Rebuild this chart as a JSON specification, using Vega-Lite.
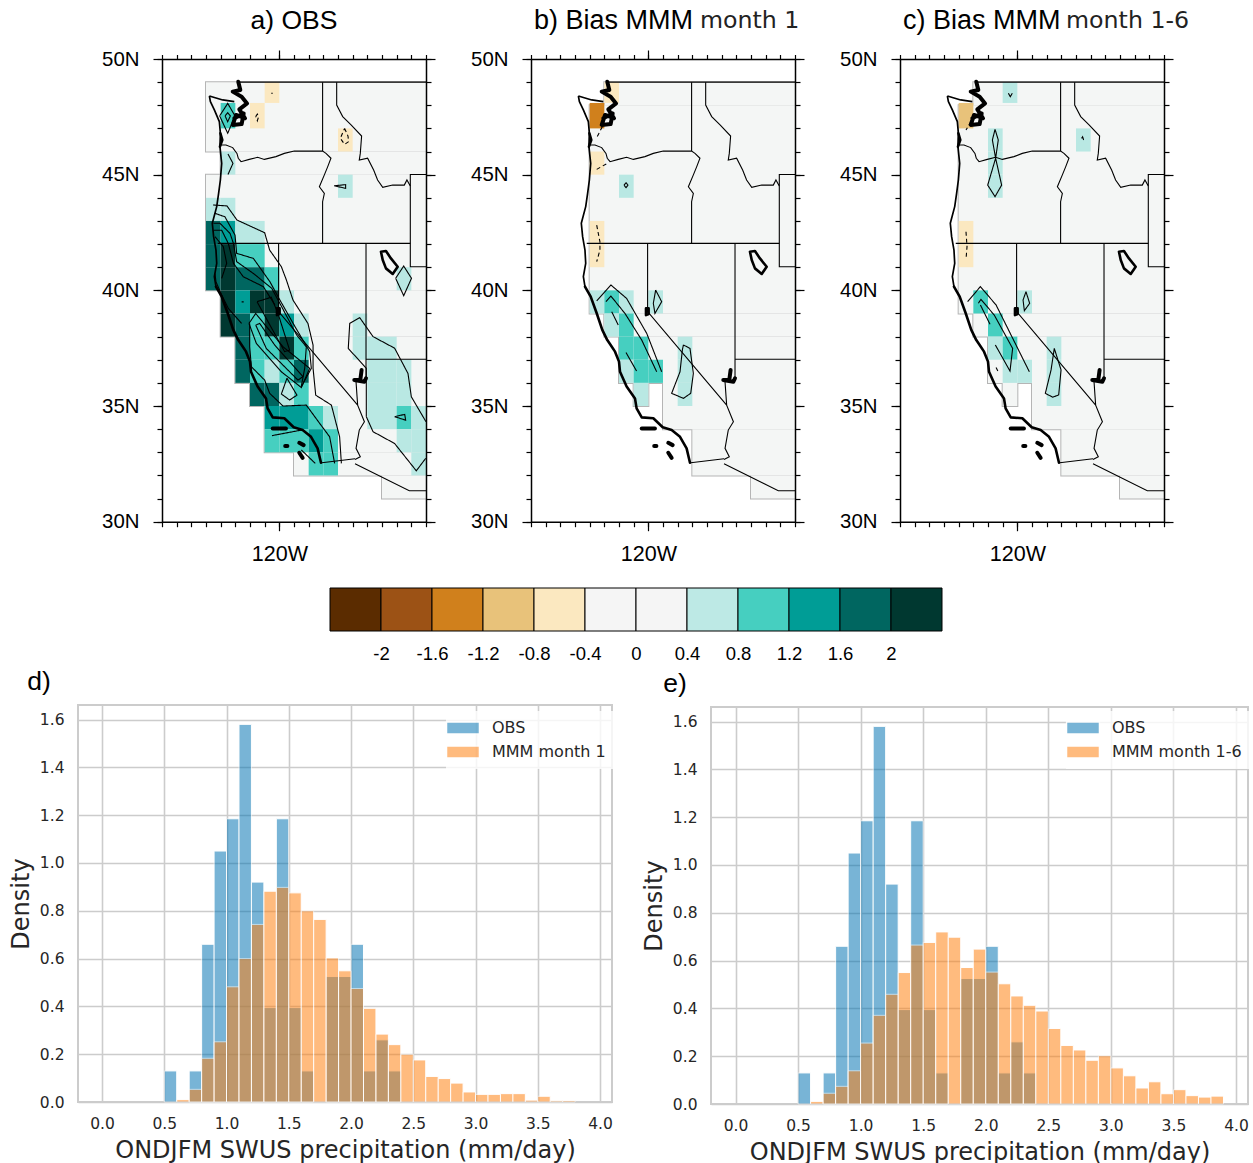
{"$schema":"https://vega.github.io/schema/vega-lite/v6.json","background":"white","padding":{"left":8,"top":7,"right":0,"bottom":8},"spacing":4,
"config":{"font":"Liberation Sans","view":{"stroke":null},"axis":{"grid":false,"domain":false,"labels":false,"tickColor":"black","tickWidth":1.2,"domainColor":"black","domainWidth":1.5,"labelColor":"black"},"title":{"font":"Liberation Sans","fontWeight":"normal","fontSize":26.5,"color":"black"}},
"datasets":{
"mask":[
{"panel":"a","west":-125,"east":-110,"south":46,"north":49},{"panel":"a","west":-124,"east":-110,"south":45,"north":46},{"panel":"a","west":-125,"east":-110,"south":40,"north":45},{"panel":"a","west":-124,"east":-110,"south":38,"north":40},{"panel":"a","west":-123,"east":-110,"south":36,"north":38},{"panel":"a","west":-122,"east":-110,"south":35,"north":36},{"panel":"a","west":-121,"east":-110,"south":33,"north":35},{"panel":"a","west":-119,"east":-110,"south":32,"north":33},{"panel":"a","west":-113,"east":-110,"south":31,"north":32},
{"panel":"m","west":-123,"east":-110,"south":48,"north":49},{"panel":"m","west":-124,"east":-110,"south":39,"north":48},{"panel":"m","west":-123,"east":-110,"south":38,"north":39},{"panel":"m","west":-122,"east":-110,"south":36,"north":38},{"panel":"m","west":-121,"east":-120,"south":35,"north":36},{"panel":"m","west":-119,"east":-110,"south":34,"north":36},{"panel":"m","west":-117,"east":-110,"south":32,"north":34},{"panel":"m","west":-113,"east":-110,"south":31,"north":32}],
"cells":[
{"panel":"a","lon":-121,"lon2":-120,"lat":48.1,"lat2":49,"v":-0.6},{"panel":"a","lon":-122,"lon2":-121,"lat":47,"lat2":48.1,"v":-0.6},{"panel":"a","lon":-124,"lon2":-123,"lat":47,"lat2":48.1,"v":1},{"panel":"a","lon":-116,"lon2":-115,"lat":46,"lat2":47,"v":-0.6},{"panel":"a","lon":-124,"lon2":-123,"lat":45,"lat2":46,"v":0.6},{"panel":"a","lon":-116,"lon2":-115,"lat":44,"lat2":45,"v":0.6},
{"panel":"a","lon":-125,"lon2":-124,"lat":43,"lat2":44,"v":0.6},{"panel":"a","lon":-124,"lon2":-123,"lat":43,"lat2":44,"v":0.6},
{"panel":"a","lon":-125,"lon2":-124,"lat":42,"lat2":43,"v":1.8},{"panel":"a","lon":-124,"lon2":-123,"lat":42,"lat2":43,"v":1.4},{"panel":"a","lon":-123,"lon2":-122,"lat":42,"lat2":43,"v":0.6},{"panel":"a","lon":-122,"lon2":-121,"lat":42,"lat2":43,"v":0.6},
{"panel":"a","lon":-125,"lon2":-124,"lat":41,"lat2":42,"v":1.8},{"panel":"a","lon":-124,"lon2":-123,"lat":41,"lat2":42,"v":2.2},{"panel":"a","lon":-123,"lon2":-122,"lat":41,"lat2":42,"v":1},{"panel":"a","lon":-122,"lon2":-121,"lat":41,"lat2":42,"v":1},
{"panel":"a","lon":-125,"lon2":-124,"lat":40,"lat2":41,"v":1.8},{"panel":"a","lon":-124,"lon2":-123,"lat":40,"lat2":41,"v":2.2},{"panel":"a","lon":-123,"lon2":-122,"lat":40,"lat2":41,"v":1.8},{"panel":"a","lon":-122,"lon2":-121,"lat":40,"lat2":41,"v":1.8},{"panel":"a","lon":-121,"lon2":-120,"lat":40,"lat2":41,"v":1},{"panel":"a","lon":-112,"lon2":-111,"lat":40,"lat2":41,"v":0.6},
{"panel":"a","lon":-124,"lon2":-123,"lat":39,"lat2":40,"v":2.2},{"panel":"a","lon":-123,"lon2":-122,"lat":39,"lat2":40,"v":1.4},{"panel":"a","lon":-122,"lon2":-121,"lat":39,"lat2":40,"v":2.2},{"panel":"a","lon":-121,"lon2":-120,"lat":39,"lat2":40,"v":2.2},{"panel":"a","lon":-120,"lon2":-119,"lat":39,"lat2":40,"v":0.6},
{"panel":"a","lon":-124,"lon2":-123,"lat":38,"lat2":39,"v":2.2},{"panel":"a","lon":-123,"lon2":-122,"lat":38,"lat2":39,"v":1.8},{"panel":"a","lon":-122,"lon2":-121,"lat":38,"lat2":39,"v":1},{"panel":"a","lon":-121,"lon2":-120,"lat":38,"lat2":39,"v":2.2},{"panel":"a","lon":-120,"lon2":-119,"lat":38,"lat2":39,"v":1.4},{"panel":"a","lon":-119,"lon2":-118,"lat":38,"lat2":39,"v":0.6},{"panel":"a","lon":-115,"lon2":-114,"lat":38,"lat2":39,"v":0.6},
{"panel":"a","lon":-123,"lon2":-122,"lat":37,"lat2":38,"v":1.8},{"panel":"a","lon":-122,"lon2":-121,"lat":37,"lat2":38,"v":1},{"panel":"a","lon":-121,"lon2":-120,"lat":37,"lat2":38,"v":1},{"panel":"a","lon":-120,"lon2":-119,"lat":37,"lat2":38,"v":2.2},{"panel":"a","lon":-119,"lon2":-118,"lat":37,"lat2":38,"v":1},{"panel":"a","lon":-115,"lon2":-114,"lat":37,"lat2":38,"v":0.6},{"panel":"a","lon":-114,"lon2":-113,"lat":37,"lat2":38,"v":0.6},{"panel":"a","lon":-113,"lon2":-112,"lat":37,"lat2":38,"v":0.6},
{"panel":"a","lon":-123,"lon2":-122,"lat":36,"lat2":37,"v":1.8},{"panel":"a","lon":-122,"lon2":-121,"lat":36,"lat2":37,"v":1},{"panel":"a","lon":-121,"lon2":-120,"lat":36,"lat2":37,"v":0.6},{"panel":"a","lon":-120,"lon2":-119,"lat":36,"lat2":37,"v":1},{"panel":"a","lon":-119,"lon2":-118,"lat":36,"lat2":37,"v":1.8},{"panel":"a","lon":-114,"lon2":-113,"lat":36,"lat2":37,"v":0.6},{"panel":"a","lon":-113,"lon2":-112,"lat":36,"lat2":37,"v":0.6},{"panel":"a","lon":-112,"lon2":-111,"lat":36,"lat2":37,"v":0.6},
{"panel":"a","lon":-122,"lon2":-121,"lat":35,"lat2":36,"v":1.8},{"panel":"a","lon":-121,"lon2":-120,"lat":35,"lat2":36,"v":1.8},{"panel":"a","lon":-120,"lon2":-119,"lat":35,"lat2":36,"v":0.6},{"panel":"a","lon":-119,"lon2":-118,"lat":35,"lat2":36,"v":1},{"panel":"a","lon":-114,"lon2":-113,"lat":35,"lat2":36,"v":0.6},{"panel":"a","lon":-113,"lon2":-112,"lat":35,"lat2":36,"v":0.6},{"panel":"a","lon":-112,"lon2":-111,"lat":35,"lat2":36,"v":0.6},
{"panel":"a","lon":-121,"lon2":-120,"lat":34,"lat2":35,"v":1.4},{"panel":"a","lon":-120,"lon2":-119,"lat":34,"lat2":35,"v":1.4},{"panel":"a","lon":-119,"lon2":-118,"lat":34,"lat2":35,"v":1.4},{"panel":"a","lon":-118,"lon2":-117,"lat":34,"lat2":35,"v":1},{"panel":"a","lon":-117,"lon2":-116,"lat":34,"lat2":35,"v":0.6},{"panel":"a","lon":-114,"lon2":-113,"lat":34,"lat2":35,"v":0.6},{"panel":"a","lon":-113,"lon2":-112,"lat":34,"lat2":35,"v":0.6},{"panel":"a","lon":-112,"lon2":-111,"lat":34,"lat2":35,"v":1},{"panel":"a","lon":-111,"lon2":-110,"lat":34,"lat2":35,"v":0.6},
{"panel":"a","lon":-121,"lon2":-120,"lat":33,"lat2":34,"v":1},{"panel":"a","lon":-120,"lon2":-119,"lat":33,"lat2":34,"v":1},{"panel":"a","lon":-119,"lon2":-118,"lat":33,"lat2":34,"v":1},{"panel":"a","lon":-118,"lon2":-117,"lat":33,"lat2":34,"v":1.4},{"panel":"a","lon":-117,"lon2":-116,"lat":33,"lat2":34,"v":1},{"panel":"a","lon":-112,"lon2":-111,"lat":33,"lat2":34,"v":0.6},{"panel":"a","lon":-111,"lon2":-110,"lat":33,"lat2":34,"v":0.6},
{"panel":"a","lon":-118,"lon2":-117,"lat":32,"lat2":33,"v":1},{"panel":"a","lon":-117,"lon2":-116,"lat":32,"lat2":33,"v":1},{"panel":"a","lon":-111,"lon2":-110,"lat":32,"lat2":33,"v":0.6},
{"panel":"b","lon":-123,"lon2":-122,"lat":48.1,"lat2":49,"v":-0.6},{"panel":"b","lon":-124,"lon2":-123,"lat":47,"lat2":48.1,"v":-1.4},{"panel":"b","lon":-124,"lon2":-123,"lat":45,"lat2":46,"v":-0.6},{"panel":"b","lon":-122,"lon2":-121,"lat":44,"lat2":45,"v":0.6},{"panel":"b","lon":-124,"lon2":-123,"lat":42,"lat2":43,"v":-0.6},{"panel":"b","lon":-124,"lon2":-123,"lat":41,"lat2":42,"v":-0.6},
{"panel":"b","lon":-124,"lon2":-123,"lat":39,"lat2":40,"v":0.6},{"panel":"b","lon":-123,"lon2":-122,"lat":39,"lat2":40,"v":1},{"panel":"b","lon":-122,"lon2":-121,"lat":39,"lat2":40,"v":0.6},{"panel":"b","lon":-120,"lon2":-119,"lat":39,"lat2":40,"v":0.6},{"panel":"b","lon":-123,"lon2":-122,"lat":38,"lat2":39,"v":0.6},{"panel":"b","lon":-122,"lon2":-121,"lat":38,"lat2":39,"v":1},{"panel":"b","lon":-122,"lon2":-121,"lat":37,"lat2":38,"v":1},{"panel":"b","lon":-121,"lon2":-120,"lat":37,"lat2":38,"v":1},{"panel":"b","lon":-118,"lon2":-117,"lat":37,"lat2":38,"v":0.6},{"panel":"b","lon":-122,"lon2":-121,"lat":36,"lat2":37,"v":0.6},{"panel":"b","lon":-121,"lon2":-120,"lat":36,"lat2":37,"v":1},{"panel":"b","lon":-120,"lon2":-119,"lat":36,"lat2":37,"v":1},{"panel":"b","lon":-118,"lon2":-117,"lat":36,"lat2":37,"v":0.6},{"panel":"b","lon":-121,"lon2":-120,"lat":35,"lat2":36,"v":0.6},{"panel":"b","lon":-118,"lon2":-117,"lat":35,"lat2":36,"v":0.6},
{"panel":"c","lon":-121,"lon2":-120,"lat":48.1,"lat2":49,"v":0.6},{"panel":"c","lon":-124,"lon2":-123,"lat":47,"lat2":48.1,"v":-1},{"panel":"c","lon":-122,"lon2":-121,"lat":46,"lat2":47,"v":0.6},{"panel":"c","lon":-116,"lon2":-115,"lat":46,"lat2":47,"v":0.6},{"panel":"c","lon":-122,"lon2":-121,"lat":45,"lat2":46,"v":0.6},{"panel":"c","lon":-122,"lon2":-121,"lat":44,"lat2":45,"v":0.6},{"panel":"c","lon":-124,"lon2":-123,"lat":42,"lat2":43,"v":-0.6},{"panel":"c","lon":-124,"lon2":-123,"lat":41,"lat2":42,"v":-0.6},
{"panel":"c","lon":-123,"lon2":-122,"lat":39,"lat2":40,"v":1},{"panel":"c","lon":-120,"lon2":-119,"lat":39,"lat2":40,"v":0.6},{"panel":"c","lon":-122,"lon2":-121,"lat":38,"lat2":39,"v":1},{"panel":"c","lon":-122,"lon2":-121,"lat":37,"lat2":38,"v":0.6},{"panel":"c","lon":-121,"lon2":-120,"lat":37,"lat2":38,"v":1},{"panel":"c","lon":-118,"lon2":-117,"lat":37,"lat2":38,"v":0.6},{"panel":"c","lon":-121,"lon2":-120,"lat":36,"lat2":37,"v":0.6},{"panel":"c","lon":-120,"lon2":-119,"lat":36,"lat2":37,"v":0.6},{"panel":"c","lon":-118,"lon2":-117,"lat":36,"lat2":37,"v":0.6},{"panel":"c","lon":-118,"lon2":-117,"lat":35,"lat2":36,"v":0.6}],
"geo":[
{"g":"c1","k":"coast","lon":-124.77,"lat":48.4},{"g":"c1","k":"coast","lon":-124.7,"lat":48.16},{"g":"c1","k":"coast","lon":-124.43,"lat":47.8},{"g":"c1","k":"coast","lon":-124.09,"lat":47.29},{"g":"c1","k":"coast","lon":-124.02,"lat":46.79},{"g":"c1","k":"coast","lon":-124.05,"lat":46.21},{"g":"c1","k":"coast","lon":-123.93,"lat":45.49},{"g":"c1","k":"coast","lon":-124.02,"lat":44.77},{"g":"c1","k":"coast","lon":-124.14,"lat":44.19},{"g":"c1","k":"coast","lon":-124.27,"lat":43.62},{"g":"c1","k":"coast","lon":-124.57,"lat":42.9},{"g":"c1","k":"coast","lon":-124.48,"lat":42.32},{"g":"c1","k":"coast","lon":-124.32,"lat":41.74},{"g":"c1","k":"coast","lon":-124.27,"lat":41.17},{"g":"c1","k":"coast","lon":-124.43,"lat":40.59},{"g":"c1","k":"coast","lon":-124.32,"lat":40.16},
{"g":"c2","k":"thick","lon":-124.32,"lat":40.16},{"g":"c2","k":"thick","lon":-123.93,"lat":39.73},{"g":"c2","k":"thick","lon":-123.52,"lat":39.01},{"g":"c2","k":"thick","lon":-123.14,"lat":38.29},{"g":"c2","k":"thick","lon":-122.8,"lat":37.85},{"g":"c2","k":"thick","lon":-122.57,"lat":37.64},{"g":"c2","k":"thick","lon":-122.27,"lat":37.35},{"g":"c2","k":"thick","lon":-122,"lat":36.92},{"g":"c2","k":"thick","lon":-121.93,"lat":36.48},{"g":"c2","k":"thick","lon":-121.48,"lat":35.84},{"g":"c2","k":"thick","lon":-120.91,"lat":35.33},{"g":"c2","k":"thick","lon":-120.8,"lat":34.9},{"g":"c2","k":"thick","lon":-120.45,"lat":34.51},{"g":"c2","k":"thick","lon":-119.66,"lat":34.47},{"g":"c2","k":"thick","lon":-119.02,"lat":34.08},{"g":"c2","k":"thick","lon":-118.41,"lat":33.96},{"g":"c2","k":"thick","lon":-117.84,"lat":33.67},{"g":"c2","k":"thick","lon":-117.39,"lat":33.17},{"g":"c2","k":"thick","lon":-117.16,"lat":32.55},
{"g":"st","k":"coast","lon":-124.77,"lat":48.4},{"g":"st","k":"coast","lon":-123.86,"lat":48.23},{"g":"st","k":"coast","lon":-123.07,"lat":48.16},
{"g":"pg","k":"heavy","lon":-122.8,"lat":49.02},{"g":"pg","k":"heavy","lon":-122.66,"lat":48.66},{"g":"pg","k":"heavy","lon":-123.18,"lat":48.59},{"g":"pg","k":"heavy","lon":-122.57,"lat":48.37},{"g":"pg","k":"heavy","lon":-122.2,"lat":48.08},{"g":"pg","k":"heavy","lon":-122.73,"lat":47.82},{"g":"pg","k":"heavy","lon":-122.34,"lat":47.44},{"g":"pg","k":"heavy","lon":-122.95,"lat":47.58},{"g":"pg","k":"heavy","lon":-123.18,"lat":47.15},{"g":"pg","k":"heavy","lon":-122.57,"lat":47.19},{"g":"pg","k":"heavy","lon":-122.43,"lat":47.65},{"g":"pg","k":"heavy","lon":-123.07,"lat":47.44},
{"g":"wb","k":"thick","lon":-124.02,"lat":46.79},{"g":"wb","k":"thick","lon":-123.89,"lat":46.5},{"g":"wb","k":"thick","lon":-124.05,"lat":46.21},
{"g":"or","k":"border","lon":-124.05,"lat":46.28},{"g":"or","k":"border","lon":-123.64,"lat":46.28},{"g":"or","k":"border","lon":-123.18,"lat":46.17},{"g":"or","k":"border","lon":-122.89,"lat":45.92},{"g":"or","k":"border","lon":-122.8,"lat":45.71},{"g":"or","k":"border","lon":-122.61,"lat":45.56},{"g":"or","k":"border","lon":-122.05,"lat":45.66},{"g":"or","k":"border","lon":-121.48,"lat":45.75},{"g":"or","k":"border","lon":-121.02,"lat":45.66},{"g":"or","k":"border","lon":-120.23,"lat":45.78},{"g":"or","k":"border","lon":-119.66,"lat":45.92},{"g":"or","k":"border","lon":-118.98,"lat":46.02},{"g":"or","k":"border","lon":-117.05,"lat":46.02},{"g":"or","k":"border","lon":-116.82,"lat":45.92},{"g":"or","k":"border","lon":-116.48,"lat":45.71},{"g":"or","k":"border","lon":-116.7,"lat":45.35},{"g":"or","k":"border","lon":-116.93,"lat":44.99},{"g":"or","k":"border","lon":-117.27,"lat":44.48},{"g":"or","k":"border","lon":-116.93,"lat":44.19},{"g":"or","k":"border","lon":-117.05,"lat":43.83},{"g":"or","k":"border","lon":-117.05,"lat":42.03},
{"g":"wi","k":"border","lon":-117.05,"lat":49},{"g":"wi","k":"border","lon":-117.05,"lat":46.02},
{"g":"n49","k":"border","lon":-122.8,"lat":49},{"g":"n49","k":"border","lon":-110,"lat":49},
{"g":"mt","k":"border","lon":-116.09,"lat":49},{"g":"mt","k":"border","lon":-116.09,"lat":48.01},{"g":"mt","k":"border","lon":-115.68,"lat":47.51},{"g":"mt","k":"border","lon":-115.11,"lat":47.15},{"g":"mt","k":"border","lon":-114.39,"lat":46.67},{"g":"mt","k":"border","lon":-114.48,"lat":45.92},{"g":"mt","k":"border","lon":-114.55,"lat":45.63},{"g":"mt","k":"border","lon":-113.98,"lat":45.71},{"g":"mt","k":"border","lon":-113.57,"lat":45.2},{"g":"mt","k":"border","lon":-113.3,"lat":44.77},{"g":"mt","k":"border","lon":-112.95,"lat":44.45},{"g":"mt","k":"border","lon":-112.27,"lat":44.55},{"g":"mt","k":"border","lon":-111.48,"lat":44.55},{"g":"mt","k":"border","lon":-111.3,"lat":44.77},{"g":"mt","k":"border","lon":-111.07,"lat":44.51},
{"g":"wy","k":"border","lon":-110,"lat":45.01},{"g":"wy","k":"border","lon":-111.07,"lat":45.01},{"g":"wy","k":"border","lon":-111.07,"lat":41.02},{"g":"wy","k":"border","lon":-110,"lat":41.02},
{"g":"n42","k":"border","lon":-124.2,"lat":42.03},{"g":"n42","k":"border","lon":-111.07,"lat":42.03},
{"g":"nv","k":"border","lon":-120.05,"lat":42.03},{"g":"nv","k":"border","lon":-120.05,"lat":39.08},{"g":"nv","k":"border","lon":-114.66,"lat":35.04},
{"g":"ta","k":"thick","lon":-120.16,"lat":39.22},{"g":"ta","k":"thick","lon":-119.98,"lat":39.22},{"g":"ta","k":"thick","lon":-119.98,"lat":38.98},{"g":"ta","k":"thick","lon":-120.16,"lat":38.93},{"g":"ta","k":"thick","lon":-120.16,"lat":39.22},
{"g":"ut","k":"border","lon":-114.09,"lat":42.03},{"g":"ut","k":"border","lon":-114.09,"lat":36.2},
{"g":"az","k":"border","lon":-114.09,"lat":37.02},{"g":"az","k":"border","lon":-110,"lat":37.02},
{"g":"lm","k":"heavy","lon":-114.39,"lat":36.56},{"g":"lm","k":"heavy","lon":-114.48,"lat":36.12},{"g":"lm","k":"heavy","lon":-114.89,"lat":36.12},{"g":"lm","k":"heavy","lon":-114.2,"lat":36.05},{"g":"lm","k":"heavy","lon":-114.09,"lat":36.2},
{"g":"co","k":"border","lon":-114.77,"lat":36.05},{"g":"co","k":"border","lon":-114.7,"lat":35.4},{"g":"co","k":"border","lon":-114.66,"lat":35.04},{"g":"co","k":"border","lon":-114.2,"lat":34.32},{"g":"co","k":"border","lon":-114.55,"lat":33.96},{"g":"co","k":"border","lon":-114.77,"lat":33.17},{"g":"co","k":"border","lon":-114.48,"lat":32.81},{"g":"co","k":"border","lon":-114.84,"lat":32.69},
{"g":"mx","k":"border","lon":-117.11,"lat":32.55},{"g":"mx","k":"border","lon":-114.84,"lat":32.72},
{"g":"am","k":"border","lon":-114.84,"lat":32.5},{"g":"am","k":"border","lon":-111.14,"lat":31.34},{"g":"am","k":"border","lon":-110,"lat":31.34},
{"g":"sl","k":"thick","lon":-113.07,"lat":41.67},{"g":"sl","k":"thick","lon":-112.73,"lat":41.7},{"g":"sl","k":"thick","lon":-112.39,"lat":41.38},{"g":"sl","k":"thick","lon":-111.93,"lat":41.02},{"g":"sl","k":"thick","lon":-112.27,"lat":40.71},{"g":"sl","k":"thick","lon":-112.73,"lat":40.95},{"g":"sl","k":"thick","lon":-112.95,"lat":41.31},{"g":"sl","k":"thick","lon":-113.07,"lat":41.67},
{"g":"i1","k":"heavy","lon":-120.45,"lat":34.03},{"g":"i1","k":"heavy","lon":-119.55,"lat":34.03},{"g":"i2","k":"heavy","lon":-119.6,"lat":33.27},{"g":"i2","k":"heavy","lon":-119.45,"lat":33.27},{"g":"i3","k":"heavy","lon":-118.64,"lat":33.41},{"g":"i3","k":"heavy","lon":-118.34,"lat":33.31},{"g":"i4","k":"heavy","lon":-118.64,"lat":32.98},{"g":"i4","k":"heavy","lon":-118.41,"lat":32.76}],
"contours":[
{"panel":"a","g":"a1","k":"pos","lon":-124.07,"lat":47.54},{"panel":"a","g":"a1","k":"pos","lon":-123.52,"lat":48.08},{"panel":"a","g":"a1","k":"pos","lon":-123.02,"lat":47.54},{"panel":"a","g":"a1","k":"pos","lon":-123.52,"lat":46.79},{"panel":"a","g":"a1","k":"pos","lon":-124.07,"lat":47.54},
{"panel":"a","g":"a2","k":"pos","lon":-123.7,"lat":47.54},{"panel":"a","g":"a2","k":"pos","lon":-123.52,"lat":47.68},{"panel":"a","g":"a2","k":"pos","lon":-123.34,"lat":47.54},{"panel":"a","g":"a2","k":"pos","lon":-123.52,"lat":47.29},{"panel":"a","g":"a2","k":"pos","lon":-123.7,"lat":47.54},
{"panel":"a","g":"a3","k":"neg","lon":-121.61,"lat":47.51},{"panel":"a","g":"a3","k":"neg","lon":-121.5,"lat":47.62},{"panel":"a","g":"a3","k":"neg","lon":-121.41,"lat":47.51},{"panel":"a","g":"a3","k":"neg","lon":-121.5,"lat":47.33},{"panel":"a","g":"a3","k":"neg","lon":-121.61,"lat":47.51},
{"panel":"a","g":"a4","k":"pos","lon":-120.55,"lat":48.52},{"panel":"a","g":"a4","k":"pos","lon":-120.45,"lat":48.52},
{"panel":"a","g":"a5","k":"neg","lon":-115.55,"lat":47},{"panel":"a","g":"a5","k":"neg","lon":-115.32,"lat":46.67},{"panel":"a","g":"a5","k":"neg","lon":-115.27,"lat":46.43},{"panel":"a","g":"a5","k":"neg","lon":-115.55,"lat":46.31},{"panel":"a","g":"a5","k":"neg","lon":-115.84,"lat":46.57},{"panel":"a","g":"a5","k":"neg","lon":-115.55,"lat":47},
{"panel":"a","g":"a6","k":"pos","lon":-123.5,"lat":45.89},{"panel":"a","g":"a6","k":"pos","lon":-123.16,"lat":45.49},{"panel":"a","g":"a6","k":"pos","lon":-123.5,"lat":45.01},
{"panel":"a","g":"a7","k":"pos","lon":-116.27,"lat":44.52},{"panel":"a","g":"a7","k":"pos","lon":-115.48,"lat":44.57},{"panel":"a","g":"a7","k":"pos","lon":-115.48,"lat":44.41},{"panel":"a","g":"a7","k":"pos","lon":-116.27,"lat":44.52},
{"panel":"a","g":"a8","k":"pos","lon":-112.07,"lat":40.52},{"panel":"a","g":"a8","k":"pos","lon":-111.52,"lat":41.05},{"panel":"a","g":"a8","k":"pos","lon":-110.99,"lat":40.52},{"panel":"a","g":"a8","k":"pos","lon":-111.52,"lat":39.77},{"panel":"a","g":"a8","k":"pos","lon":-112.07,"lat":40.52},
{"panel":"a","g":"a9","k":"pos","lon":-124.52,"lat":43.69},{"panel":"a","g":"a9","k":"pos","lon":-123.57,"lat":43.65},{"panel":"a","g":"a9","k":"pos","lon":-122.89,"lat":43.04},{"panel":"a","g":"a9","k":"pos","lon":-121,"lat":42.49},{"panel":"a","g":"a9","k":"pos","lon":-120.66,"lat":41.74},{"panel":"a","g":"a9","k":"pos","lon":-119.86,"lat":41.02},{"panel":"a","g":"a9","k":"pos","lon":-119.52,"lat":40.45},{"panel":"a","g":"a9","k":"pos","lon":-119.07,"lat":39.58},{"panel":"a","g":"a9","k":"pos","lon":-118.05,"lat":38.57},{"panel":"a","g":"a9","k":"pos","lon":-117.7,"lat":37.63},{"panel":"a","g":"a9","k":"pos","lon":-117.7,"lat":36.63},{"panel":"a","g":"a9","k":"pos","lon":-117.52,"lat":35.47},{"panel":"a","g":"a9","k":"pos","lon":-116.45,"lat":35.04},{"panel":"a","g":"a9","k":"pos","lon":-115.89,"lat":33.67},{"panel":"a","g":"a9","k":"pos","lon":-115.77,"lat":32.52},
{"panel":"a","g":"a10","k":"pos","lon":-124.39,"lat":43.33},{"panel":"a","g":"a10","k":"pos","lon":-123.71,"lat":43.18},{"panel":"a","g":"a10","k":"pos","lon":-123.02,"lat":42.39},{"panel":"a","g":"a10","k":"pos","lon":-122.91,"lat":41.6},{"panel":"a","g":"a10","k":"pos","lon":-121.77,"lat":41.38},{"panel":"a","g":"a10","k":"pos","lon":-120.64,"lat":40.37},{"panel":"a","g":"a10","k":"pos","lon":-119.96,"lat":39.58},{"panel":"a","g":"a10","k":"pos","lon":-118.93,"lat":38.43},{"panel":"a","g":"a10","k":"pos","lon":-117.93,"lat":37.35},{"panel":"a","g":"a10","k":"pos","lon":-117.82,"lat":36.63},{"panel":"a","g":"a10","k":"pos","lon":-118.5,"lat":35.83},
{"panel":"a","g":"a11","k":"pos","lon":-124.5,"lat":42.9},{"panel":"a","g":"a11","k":"pos","lon":-124.05,"lat":42.9},{"panel":"a","g":"a11","k":"pos","lon":-123.36,"lat":42.46},{"panel":"a","g":"a11","k":"pos","lon":-123.13,"lat":42.03},{"panel":"a","g":"a11","k":"pos","lon":-122.91,"lat":41.24},{"panel":"a","g":"a11","k":"pos","lon":-121.77,"lat":40.73},{"panel":"a","g":"a11","k":"pos","lon":-120.52,"lat":40.09},{"panel":"a","g":"a11","k":"pos","lon":-119.84,"lat":39.29},{"panel":"a","g":"a11","k":"pos","lon":-118.82,"lat":38.07},{"panel":"a","g":"a11","k":"pos","lon":-118.16,"lat":37.56},{"panel":"a","g":"a11","k":"pos","lon":-118.27,"lat":36.63},{"panel":"a","g":"a11","k":"pos","lon":-118.5,"lat":35.86},
{"panel":"a","g":"a12","k":"pos","lon":-124.5,"lat":42.6},{"panel":"a","g":"a12","k":"pos","lon":-123.93,"lat":42.6},{"panel":"a","g":"a12","k":"pos","lon":-123.48,"lat":42.03},{"panel":"a","g":"a12","k":"pos","lon":-123.13,"lat":41.17},{"panel":"a","g":"a12","k":"pos","lon":-122.46,"lat":40.59},{"panel":"a","g":"a12","k":"pos","lon":-121.09,"lat":40.16},{"panel":"a","g":"a12","k":"pos","lon":-120.3,"lat":39.37},
{"panel":"a","g":"a13","k":"pos","lon":-124.39,"lat":42.32},{"panel":"a","g":"a13","k":"pos","lon":-123.82,"lat":41.89},{"panel":"a","g":"a13","k":"pos","lon":-123.59,"lat":41.17},{"panel":"a","g":"a13","k":"pos","lon":-123.93,"lat":40.52},
{"panel":"a","g":"a14","k":"pos","lon":-124.39,"lat":40.73},{"panel":"a","g":"a14","k":"pos","lon":-124.32,"lat":40.37},{"panel":"a","g":"a14","k":"pos","lon":-123.93,"lat":39.8},{"panel":"a","g":"a14","k":"pos","lon":-123.48,"lat":39.22},{"panel":"a","g":"a14","k":"pos","lon":-122.57,"lat":38.57},
{"panel":"a","g":"a15","k":"pos","lon":-121.52,"lat":39.51},{"panel":"a","g":"a15","k":"pos","lon":-120.55,"lat":39.7},{"panel":"a","g":"a15","k":"pos","lon":-120.09,"lat":39},{"panel":"a","g":"a15","k":"pos","lon":-119.3,"lat":37.42},{"panel":"a","g":"a15","k":"pos","lon":-119.64,"lat":37.35},{"panel":"a","g":"a15","k":"pos","lon":-121.52,"lat":39.51},
{"panel":"a","g":"a16","k":"pos","lon":-121.61,"lat":38.5},{"panel":"a","g":"a16","k":"pos","lon":-121.34,"lat":38.57},{"panel":"a","g":"a16","k":"pos","lon":-120.32,"lat":37.64},{"panel":"a","g":"a16","k":"pos","lon":-118.39,"lat":36.27},{"panel":"a","g":"a16","k":"pos","lon":-118.73,"lat":36.12},{"panel":"a","g":"a16","k":"pos","lon":-120.89,"lat":37.49},{"panel":"a","g":"a16","k":"pos","lon":-121.61,"lat":38.5},
{"panel":"a","g":"a17","k":"pos","lon":-122.07,"lat":38.57},{"panel":"a","g":"a17","k":"pos","lon":-121.61,"lat":39},{"panel":"a","g":"a17","k":"pos","lon":-119.75,"lat":37.56},{"panel":"a","g":"a17","k":"pos","lon":-117.93,"lat":36.63},{"panel":"a","g":"a17","k":"pos","lon":-118.5,"lat":35.8},{"panel":"a","g":"a17","k":"pos","lon":-119.86,"lat":36.48},{"panel":"a","g":"a17","k":"pos","lon":-121.57,"lat":37.71},{"panel":"a","g":"a17","k":"pos","lon":-122.07,"lat":38.57},
{"panel":"a","g":"a18","k":"pos","lon":-122.02,"lat":38.57},{"panel":"a","g":"a18","k":"pos","lon":-122.02,"lat":37.56},{"panel":"a","g":"a18","k":"pos","lon":-121.91,"lat":36.7},{"panel":"a","g":"a18","k":"pos","lon":-121,"lat":36.12},{"panel":"a","g":"a18","k":"pos","lon":-120.66,"lat":35.55},{"panel":"a","g":"a18","k":"pos","lon":-119.75,"lat":35},{"panel":"a","g":"a18","k":"pos","lon":-118.16,"lat":35.04},{"panel":"a","g":"a18","k":"pos","lon":-117.25,"lat":34.25},{"panel":"a","g":"a18","k":"pos","lon":-116.57,"lat":33.67},{"panel":"a","g":"a18","k":"pos","lon":-116.23,"lat":32.52},
{"panel":"a","g":"a19","k":"pos","lon":-119.48,"lat":36.2},{"panel":"a","g":"a19","k":"pos","lon":-118.8,"lat":35.47},{"panel":"a","g":"a19","k":"pos","lon":-119.3,"lat":35.26},{"panel":"a","g":"a19","k":"pos","lon":-119.86,"lat":35.52},{"panel":"a","g":"a19","k":"pos","lon":-119.48,"lat":36.2},
{"panel":"a","g":"a20","k":"pos","lon":-120.5,"lat":33.72},{"panel":"a","g":"a20","k":"pos","lon":-118.5,"lat":33.96},
{"panel":"a","g":"a21","k":"pos","lon":-118.5,"lat":33.1},{"panel":"a","g":"a21","k":"pos","lon":-117.55,"lat":32.52},
{"panel":"a","g":"a22","k":"pos","lon":-122.57,"lat":39.5},{"panel":"a","g":"a22","k":"pos","lon":-122.43,"lat":39.5},
{"panel":"a","g":"a23","k":"pos","lon":-114.07,"lat":34.54},{"panel":"a","g":"a23","k":"pos","lon":-114.07,"lat":36.63},{"panel":"a","g":"a23","k":"pos","lon":-115.3,"lat":37.49},{"panel":"a","g":"a23","k":"pos","lon":-115.2,"lat":38.57},{"panel":"a","g":"a23","k":"pos","lon":-114.52,"lat":38.82},{"panel":"a","g":"a23","k":"pos","lon":-113.61,"lat":38},{"panel":"a","g":"a23","k":"pos","lon":-112.14,"lat":37.5},{"panel":"a","g":"a23","k":"pos","lon":-111.23,"lat":36.41},{"panel":"a","g":"a23","k":"pos","lon":-111,"lat":35.4},{"panel":"a","g":"a23","k":"pos","lon":-110,"lat":34.32},
{"panel":"a","g":"a24","k":"pos","lon":-114.07,"lat":34.54},{"panel":"a","g":"a24","k":"pos","lon":-113.61,"lat":33.89},{"panel":"a","g":"a24","k":"pos","lon":-112.14,"lat":33.38},{"panel":"a","g":"a24","k":"pos","lon":-110.66,"lat":32.2},{"panel":"a","g":"a24","k":"pos","lon":-110.02,"lat":32.74},
{"panel":"a","g":"a25","k":"pos","lon":-112.14,"lat":34.54},{"panel":"a","g":"a25","k":"pos","lon":-111.45,"lat":34.64},{"panel":"a","g":"a25","k":"pos","lon":-111.39,"lat":34.39},{"panel":"a","g":"a25","k":"pos","lon":-112.14,"lat":34.54},
{"panel":"b","g":"b1","k":"pos","lon":-123.52,"lat":39.55},{"panel":"b","g":"b1","k":"pos","lon":-122.55,"lat":40.23},{"panel":"b","g":"b1","k":"pos","lon":-121.48,"lat":39.65},{"panel":"b","g":"b1","k":"pos","lon":-120.11,"lat":38.14},{"panel":"b","g":"b1","k":"pos","lon":-119.09,"lat":36.48},
{"panel":"b","g":"b2","k":"pos","lon":-122.89,"lat":39.51},{"panel":"b","g":"b2","k":"pos","lon":-122.55,"lat":39.75},{"panel":"b","g":"b2","k":"pos","lon":-121.59,"lat":39},{"panel":"b","g":"b2","k":"pos","lon":-120.45,"lat":37.85},{"panel":"b","g":"b2","k":"pos","lon":-119.43,"lat":36.48},
{"panel":"b","g":"b3","k":"pos","lon":-122.5,"lat":39.08},{"panel":"b","g":"b3","k":"pos","lon":-122.05,"lat":38.5},
{"panel":"b","g":"b4","k":"pos","lon":-121.52,"lat":37.31},{"panel":"b","g":"b4","k":"pos","lon":-120.8,"lat":36.51},
{"panel":"b","g":"b5","k":"pos","lon":-119.5,"lat":40.01},{"panel":"b","g":"b5","k":"pos","lon":-119.09,"lat":39.51},{"panel":"b","g":"b5","k":"pos","lon":-119.55,"lat":39},{"panel":"b","g":"b5","k":"pos","lon":-119.66,"lat":39.44},{"panel":"b","g":"b5","k":"pos","lon":-119.5,"lat":40.01},
{"panel":"b","g":"b6","k":"pos","lon":-117.61,"lat":37.64},{"panel":"b","g":"b6","k":"pos","lon":-117.16,"lat":37.49},{"panel":"b","g":"b6","k":"pos","lon":-116.93,"lat":36.41},{"panel":"b","g":"b6","k":"pos","lon":-117.11,"lat":35.55},{"panel":"b","g":"b6","k":"pos","lon":-117.61,"lat":35.33},{"panel":"b","g":"b6","k":"pos","lon":-118.41,"lat":35.55},{"panel":"b","g":"b6","k":"pos","lon":-117.84,"lat":36.48},{"panel":"b","g":"b6","k":"pos","lon":-117.68,"lat":37.42},{"panel":"b","g":"b6","k":"pos","lon":-117.61,"lat":37.64},
{"panel":"b","g":"b7","k":"pos","lon":-121.66,"lat":44.55},{"panel":"b","g":"b7","k":"pos","lon":-121.52,"lat":44.65},{"panel":"b","g":"b7","k":"pos","lon":-121.39,"lat":44.55},{"panel":"b","g":"b7","k":"pos","lon":-121.52,"lat":44.44},{"panel":"b","g":"b7","k":"pos","lon":-121.66,"lat":44.55},
{"panel":"b","g":"b8","k":"neg","lon":-123.52,"lat":42.82},{"panel":"b","g":"b8","k":"neg","lon":-123.3,"lat":42.1},{"panel":"b","g":"b8","k":"neg","lon":-123.3,"lat":41.74},{"panel":"b","g":"b8","k":"neg","lon":-123.52,"lat":41.24},
{"panel":"b","g":"b9","k":"neg","lon":-123.14,"lat":47.07},{"panel":"b","g":"b9","k":"neg","lon":-123.57,"lat":46.53},
{"panel":"b","g":"b10","k":"neg","lon":-123.52,"lat":45.23},{"panel":"b","g":"b10","k":"neg","lon":-122.8,"lat":45.49},
{"panel":"c","g":"c1","k":"pos","lon":-123.39,"lat":39.51},{"panel":"c","g":"c1","k":"pos","lon":-122.52,"lat":40.16},{"panel":"c","g":"c1","k":"pos","lon":-121.45,"lat":39.37},{"panel":"c","g":"c1","k":"pos","lon":-119.18,"lat":36.48},
{"panel":"c","g":"c2","k":"pos","lon":-122.66,"lat":39.44},{"panel":"c","g":"c2","k":"pos","lon":-122.48,"lat":39.61},{"panel":"c","g":"c2","k":"pos","lon":-121.57,"lat":38.93},{"panel":"c","g":"c2","k":"pos","lon":-120.32,"lat":37.49},{"panel":"c","g":"c2","k":"pos","lon":-120.5,"lat":36.51},{"panel":"c","g":"c2","k":"pos","lon":-121.5,"lat":37.64},
{"panel":"c","g":"c3","k":"pos","lon":-122.52,"lat":39.37},{"panel":"c","g":"c3","k":"pos","lon":-121.86,"lat":38.53},
{"panel":"c","g":"c4","k":"pos","lon":-121.45,"lat":36.67},{"panel":"c","g":"c4","k":"pos","lon":-121.33,"lat":36.51},
{"panel":"c","g":"c5","k":"pos","lon":-119.41,"lat":39.94},{"panel":"c","g":"c5","k":"pos","lon":-119.16,"lat":39.44},{"panel":"c","g":"c5","k":"pos","lon":-119.52,"lat":39.12},{"panel":"c","g":"c5","k":"pos","lon":-119.61,"lat":39.58},{"panel":"c","g":"c5","k":"pos","lon":-119.41,"lat":39.94},
{"panel":"c","g":"c6","k":"pos","lon":-117.48,"lat":37.49},{"panel":"c","g":"c6","k":"pos","lon":-117.02,"lat":36.56},{"panel":"c","g":"c6","k":"pos","lon":-117.18,"lat":35.48},{"panel":"c","g":"c6","k":"pos","lon":-117.59,"lat":35.38},{"panel":"c","g":"c6","k":"pos","lon":-118.09,"lat":35.55},{"panel":"c","g":"c6","k":"pos","lon":-117.7,"lat":36.56},{"panel":"c","g":"c6","k":"pos","lon":-117.48,"lat":37.49},
{"panel":"c","g":"c7","k":"pos","lon":-121.52,"lat":46.96},{"panel":"c","g":"c7","k":"pos","lon":-121.3,"lat":46.5},{"panel":"c","g":"c7","k":"pos","lon":-121.48,"lat":45.71},{"panel":"c","g":"c7","k":"pos","lon":-121.07,"lat":44.55},{"panel":"c","g":"c7","k":"pos","lon":-121.52,"lat":44.05},{"panel":"c","g":"c7","k":"pos","lon":-122.02,"lat":44.55},{"panel":"c","g":"c7","k":"pos","lon":-121.48,"lat":45.71},{"panel":"c","g":"c7","k":"pos","lon":-121.7,"lat":46.5},{"panel":"c","g":"c7","k":"pos","lon":-121.52,"lat":46.96},
{"panel":"c","g":"c8","k":"pos","lon":-120.61,"lat":48.52},{"panel":"c","g":"c8","k":"pos","lon":-120.48,"lat":48.37},{"panel":"c","g":"c8","k":"pos","lon":-120.34,"lat":48.52},
{"panel":"c","g":"c9","k":"pos","lon":-115.62,"lat":46.57},{"panel":"c","g":"c9","k":"pos","lon":-115.55,"lat":46.64},{"panel":"c","g":"c9","k":"pos","lon":-115.48,"lat":46.5},
{"panel":"c","g":"c10","k":"neg","lon":-123.5,"lat":42.53},{"panel":"c","g":"c10","k":"neg","lon":-123.43,"lat":41.89},{"panel":"c","g":"c10","k":"neg","lon":-123.5,"lat":41.33},
{"panel":"c","g":"c11","k":"neg","lon":-123.16,"lat":47.29},{"panel":"c","g":"c11","k":"neg","lon":-123.5,"lat":46.93}],
"bar":[{"from":-2.4,"to":-2,"v":-2.2},{"from":-2,"to":-1.6,"v":-1.8},{"from":-1.6,"to":-1.2,"v":-1.4},{"from":-1.2,"to":-0.8,"v":-1},{"from":-0.8,"to":-0.4,"v":-0.6},{"from":-0.4,"to":0,"v":-0.2},{"from":0,"to":0.4,"v":0.2},{"from":0.4,"to":0.8,"v":0.6},{"from":0.8,"to":1.2,"v":1},{"from":1.2,"to":1.6,"v":1.4},{"from":1.6,"to":2,"v":1.8},{"from":2,"to":2.4,"v":2.2}],
"hist_d":[
{"from":0.5,"to":0.6,"density":0.13,"series":"OBS"},{"from":0.7,"to":0.8,"density":0.13,"series":"OBS"},{"from":0.8,"to":0.9,"density":0.66,"series":"OBS"},{"from":0.9,"to":1,"density":1.05,"series":"OBS"},{"from":1,"to":1.1,"density":1.185,"series":"OBS"},{"from":1.1,"to":1.2,"density":1.58,"series":"OBS"},{"from":1.2,"to":1.3,"density":0.92,"series":"OBS"},{"from":1.3,"to":1.4,"density":0.395,"series":"OBS"},{"from":1.4,"to":1.5,"density":1.185,"series":"OBS"},{"from":1.5,"to":1.6,"density":0.395,"series":"OBS"},{"from":1.6,"to":1.7,"density":0.13,"series":"OBS"},{"from":1.8,"to":1.9,"density":0.525,"series":"OBS"},{"from":1.9,"to":2,"density":0.525,"series":"OBS"},{"from":2,"to":2.1,"density":0.66,"series":"OBS"},{"from":2.1,"to":2.2,"density":0.13,"series":"OBS"},{"from":2.2,"to":2.3,"density":0.26,"series":"OBS"},{"from":2.3,"to":2.4,"density":0.13,"series":"OBS"},
{"from":0.6,"to":0.7,"density":0.01,"series":"MMM month 1"},{"from":0.7,"to":0.8,"density":0.053,"series":"MMM month 1"},{"from":0.8,"to":0.9,"density":0.183,"series":"MMM month 1"},{"from":0.9,"to":1,"density":0.252,"series":"MMM month 1"},{"from":1,"to":1.1,"density":0.482,"series":"MMM month 1"},{"from":1.1,"to":1.2,"density":0.6,"series":"MMM month 1"},{"from":1.2,"to":1.3,"density":0.743,"series":"MMM month 1"},{"from":1.3,"to":1.4,"density":0.882,"series":"MMM month 1"},{"from":1.4,"to":1.5,"density":0.898,"series":"MMM month 1"},{"from":1.5,"to":1.6,"density":0.875,"series":"MMM month 1"},{"from":1.6,"to":1.7,"density":0.8,"series":"MMM month 1"},{"from":1.7,"to":1.8,"density":0.764,"series":"MMM month 1"},{"from":1.8,"to":1.9,"density":0.603,"series":"MMM month 1"},{"from":1.9,"to":2,"density":0.549,"series":"MMM month 1"},{"from":2,"to":2.1,"density":0.475,"series":"MMM month 1"},{"from":2.1,"to":2.2,"density":0.392,"series":"MMM month 1"},{"from":2.2,"to":2.3,"density":0.284,"series":"MMM month 1"},{"from":2.3,"to":2.4,"density":0.24,"series":"MMM month 1"},{"from":2.4,"to":2.5,"density":0.2,"series":"MMM month 1"},{"from":2.5,"to":2.6,"density":0.176,"series":"MMM month 1"},{"from":2.6,"to":2.7,"density":0.107,"series":"MMM month 1"},{"from":2.7,"to":2.8,"density":0.098,"series":"MMM month 1"},{"from":2.8,"to":2.9,"density":0.079,"series":"MMM month 1"},{"from":2.9,"to":3,"density":0.042,"series":"MMM month 1"},{"from":3,"to":3.1,"density":0.032,"series":"MMM month 1"},{"from":3.1,"to":3.2,"density":0.032,"series":"MMM month 1"},{"from":3.2,"to":3.3,"density":0.035,"series":"MMM month 1"},{"from":3.3,"to":3.4,"density":0.035,"series":"MMM month 1"},{"from":3.4,"to":3.5,"density":0.008,"series":"MMM month 1"},{"from":3.5,"to":3.6,"density":0.024,"series":"MMM month 1"},{"from":3.6,"to":3.7,"density":0.005,"series":"MMM month 1"},{"from":3.7,"to":3.8,"density":0.006,"series":"MMM month 1"}],
"hist_e":[
{"from":0.5,"to":0.6,"density":0.13,"series":"OBS"},{"from":0.7,"to":0.8,"density":0.13,"series":"OBS"},{"from":0.8,"to":0.9,"density":0.66,"series":"OBS"},{"from":0.9,"to":1,"density":1.05,"series":"OBS"},{"from":1,"to":1.1,"density":1.185,"series":"OBS"},{"from":1.1,"to":1.2,"density":1.58,"series":"OBS"},{"from":1.2,"to":1.3,"density":0.92,"series":"OBS"},{"from":1.3,"to":1.4,"density":0.395,"series":"OBS"},{"from":1.4,"to":1.5,"density":1.185,"series":"OBS"},{"from":1.5,"to":1.6,"density":0.395,"series":"OBS"},{"from":1.6,"to":1.7,"density":0.13,"series":"OBS"},{"from":1.8,"to":1.9,"density":0.525,"series":"OBS"},{"from":1.9,"to":2,"density":0.525,"series":"OBS"},{"from":2,"to":2.1,"density":0.66,"series":"OBS"},{"from":2.1,"to":2.2,"density":0.13,"series":"OBS"},{"from":2.2,"to":2.3,"density":0.26,"series":"OBS"},{"from":2.3,"to":2.4,"density":0.13,"series":"OBS"},
{"from":0.6,"to":0.7,"density":0.011,"series":"MMM month 1-6"},{"from":0.7,"to":0.8,"density":0.045,"series":"MMM month 1-6"},{"from":0.8,"to":0.9,"density":0.074,"series":"MMM month 1-6"},{"from":0.9,"to":1,"density":0.139,"series":"MMM month 1-6"},{"from":1,"to":1.1,"density":0.255,"series":"MMM month 1-6"},{"from":1.1,"to":1.2,"density":0.371,"series":"MMM month 1-6"},{"from":1.2,"to":1.3,"density":0.459,"series":"MMM month 1-6"},{"from":1.3,"to":1.4,"density":0.55,"series":"MMM month 1-6"},{"from":1.4,"to":1.5,"density":0.665,"series":"MMM month 1-6"},{"from":1.5,"to":1.6,"density":0.676,"series":"MMM month 1-6"},{"from":1.6,"to":1.7,"density":0.72,"series":"MMM month 1-6"},{"from":1.7,"to":1.8,"density":0.698,"series":"MMM month 1-6"},{"from":1.8,"to":1.9,"density":0.571,"series":"MMM month 1-6"},{"from":1.9,"to":2,"density":0.648,"series":"MMM month 1-6"},{"from":2,"to":2.1,"density":0.552,"series":"MMM month 1-6"},{"from":2.1,"to":2.2,"density":0.503,"series":"MMM month 1-6"},{"from":2.2,"to":2.3,"density":0.452,"series":"MMM month 1-6"},{"from":2.3,"to":2.4,"density":0.413,"series":"MMM month 1-6"},{"from":2.4,"to":2.5,"density":0.389,"series":"MMM month 1-6"},{"from":2.5,"to":2.6,"density":0.316,"series":"MMM month 1-6"},{"from":2.6,"to":2.7,"density":0.245,"series":"MMM month 1-6"},{"from":2.7,"to":2.8,"density":0.226,"series":"MMM month 1-6"},{"from":2.8,"to":2.9,"density":0.183,"series":"MMM month 1-6"},{"from":2.9,"to":3,"density":0.202,"series":"MMM month 1-6"},{"from":3,"to":3.1,"density":0.151,"series":"MMM month 1-6"},{"from":3.1,"to":3.2,"density":0.118,"series":"MMM month 1-6"},{"from":3.2,"to":3.3,"density":0.067,"series":"MMM month 1-6"},{"from":3.3,"to":3.4,"density":0.093,"series":"MMM month 1-6"},{"from":3.4,"to":3.5,"density":0.043,"series":"MMM month 1-6"},{"from":3.5,"to":3.6,"density":0.06,"series":"MMM month 1-6"},{"from":3.6,"to":3.7,"density":0.035,"series":"MMM month 1-6"},{"from":3.7,"to":3.8,"density":0.029,"series":"MMM month 1-6"},{"from":3.8,"to":3.9,"density":0.033,"series":"MMM month 1-6"}]
},
"vconcat":[
{"vconcat":[
{"hconcat":[
{"width":84,"height":1,"data":{"values":[{"spacer":1}]},"mark":{"type":"rect","opacity":0},"encoding":{}},
{"hconcat":[
{"width":264,"height":462.7,"resolve":{"axis":{"x":"independent","y":"independent"}},"layer":[
{"data":{"name":"mask"},"transform":[{"filter":"datum.panel==='a'"}],"mark":{"type":"rect","fill":"#f4f6f5","stroke":"#b5b5b5","strokeWidth":2},"encoding":{"x":{"field":"west","type":"quantitative","scale":{"domain":[-128,-110],"nice":false,"zero":false},"title":null,"axis":{"orient":"bottom","values":[-128,-127,-126,-125,-124,-123,-122,-121,-120,-119,-118,-117,-116,-115,-114,-113,-112,-111,-110],"tickSize":5}},"x2":{"field":"east"},"y":{"field":"south","type":"quantitative","scale":{"domain":[30,50],"nice":false,"zero":false},"title":null,"axis":{"orient":"left","values":[30,31,32,33,34,35,36,37,38,39,40,41,42,43,44,45,46,47,48,49,50],"tickSize":5}},"y2":{"field":"north"}}},
{"data":{"name":"mask"},"transform":[{"filter":"datum.panel==='a'"}],"mark":{"type":"rect","fill":"#f4f6f5"},"encoding":{"x":{"field":"west","type":"quantitative","scale":{"domain":[-128,-110],"nice":false,"zero":false},"title":null,"axis":{"orient":"bottom","values":[-120],"tickSize":9,"domain":true,"zindex":1,"labels":true,"labelExpr":"'120W'","labelFontSize":21.5,"labelPadding":13}},"x2":{"field":"east"},"y":{"field":"south","type":"quantitative","scale":{"domain":[30,50],"nice":false,"zero":false},"title":null,"axis":{"orient":"left","values":[30,35,40,45,50],"tickSize":9,"domain":true,"zindex":1,"labels":true,"labelExpr":"datum.value+'N'","labelFontSize":20.4,"labelPadding":14}},"y2":{"field":"north"}}},
{"data":{"name":"cells"},"transform":[{"filter":"datum.panel==='a'"}],"mark":{"type":"rect"},"encoding":{"x":{"field":"lon","type":"quantitative","scale":{"domain":[-128,-110],"nice":false,"zero":false},"title":null,"axis":{"orient":"top","values":[-128,-127,-126,-125,-124,-123,-122,-121,-120,-119,-118,-117,-116,-115,-114,-113,-112,-111,-110],"tickSize":4.5}},"x2":{"field":"lon2"},"y":{"field":"lat","type":"quantitative","scale":{"domain":[30,50],"nice":false,"zero":false},"title":null,"axis":{"orient":"right","values":[30,31,32,33,34,35,36,37,38,39,40,41,42,43,44,45,46,47,48,49,50],"tickSize":5}},"y2":{"field":"lat2"},"color":{"field":"v","type":"quantitative","legend":null,"scale":{"type":"threshold","domain":[-2,-1.6,-1.2,-0.8,-0.4,0,0.4,0.8,1.2,1.6,2],"range":["#5b2c00","#9c5215","#d0801c","#e8c27a","#fbe8c0","#f4f6f5","#f4f6f5","#b9e8e3","#46cfc0","#009d96","#006660","#003830"]}}}},
{"data":{"name":"geo"},"transform":[{"filter":"datum.k==='border'"}],"mark":{"type":"line","color":"black","clip":true,"strokeWidth":1.1},"encoding":{"x":{"field":"lon","type":"quantitative","scale":{"domain":[-128,-110],"nice":false,"zero":false},"title":null,"axis":{"orient":"top","values":[-120],"tickSize":9,"domain":true,"zindex":1}},"y":{"field":"lat","type":"quantitative","scale":{"domain":[30,50],"nice":false,"zero":false},"title":null,"axis":{"orient":"right","values":[30,35,40,45,50],"tickSize":9,"domain":true,"zindex":1}},"detail":{"field":"g"},"order":{"value":null}}},
{"data":{"name":"geo"},"transform":[{"filter":"datum.k==='coast'"}],"mark":{"type":"line","color":"black","clip":true,"strokeWidth":1.7,"strokeJoin":"round"},"encoding":{"x":{"field":"lon","type":"quantitative","scale":{"domain":[-128,-110],"nice":false,"zero":false},"axis":null},"y":{"field":"lat","type":"quantitative","scale":{"domain":[30,50],"nice":false,"zero":false},"axis":null},"detail":{"field":"g"},"order":{"value":null}}},
{"data":{"name":"geo"},"transform":[{"filter":"datum.k==='thick'"}],"mark":{"type":"line","color":"black","clip":true,"strokeWidth":2.6,"strokeJoin":"round","strokeCap":"round"},"encoding":{"x":{"field":"lon","type":"quantitative","scale":{"domain":[-128,-110],"nice":false,"zero":false},"axis":null},"y":{"field":"lat","type":"quantitative","scale":{"domain":[30,50],"nice":false,"zero":false},"axis":null},"detail":{"field":"g"},"order":{"value":null}}},
{"data":{"name":"geo"},"transform":[{"filter":"datum.k==='heavy'"}],"mark":{"type":"line","color":"black","clip":true,"strokeWidth":4,"strokeJoin":"round","strokeCap":"round"},"encoding":{"x":{"field":"lon","type":"quantitative","scale":{"domain":[-128,-110],"nice":false,"zero":false},"axis":null},"y":{"field":"lat","type":"quantitative","scale":{"domain":[30,50],"nice":false,"zero":false},"axis":null},"detail":{"field":"g"},"order":{"value":null}}},
{"data":{"name":"contours"},"transform":[{"filter":"datum.panel==='a'"}],"mark":{"type":"line","color":"black","clip":true,"strokeWidth":1.1},"encoding":{"x":{"field":"lon","type":"quantitative","scale":{"domain":[-128,-110],"nice":false,"zero":false},"axis":null},"y":{"field":"lat","type":"quantitative","scale":{"domain":[30,50],"nice":false,"zero":false},"axis":null},"detail":{"field":"g"},"order":{"value":null},"strokeDash":{"field":"k","type":"nominal","legend":null,"scale":{"domain":["pos","neg"],"range":[[1,0],[4,3]]}}}},
{"data":{"values":[{"label":"a) OBS"}]},"mark":{"type":"text","align":"center","baseline":"middle","font":"Liberation Sans","fontSize":26.5,"color":"black"},"encoding":{"x":{"datum":-119,"type":"quantitative","axis":null},"y":{"datum":51.64,"type":"quantitative","axis":null},"text":{"field":"label"}}}
]},
{"width":264,"height":462.7,"resolve":{"axis":{"x":"independent","y":"independent"}},"layer":[
{"data":{"name":"mask"},"transform":[{"filter":"datum.panel==='m'"}],"mark":{"type":"rect","fill":"#f4f6f5","stroke":"#b5b5b5","strokeWidth":2},"encoding":{"x":{"field":"west","type":"quantitative","scale":{"domain":[-128,-110],"nice":false,"zero":false},"title":null,"axis":{"orient":"bottom","values":[-128,-127,-126,-125,-124,-123,-122,-121,-120,-119,-118,-117,-116,-115,-114,-113,-112,-111,-110],"tickSize":5}},"x2":{"field":"east"},"y":{"field":"south","type":"quantitative","scale":{"domain":[30,50],"nice":false,"zero":false},"title":null,"axis":{"orient":"left","values":[30,31,32,33,34,35,36,37,38,39,40,41,42,43,44,45,46,47,48,49,50],"tickSize":5}},"y2":{"field":"north"}}},
{"data":{"name":"mask"},"transform":[{"filter":"datum.panel==='m'"}],"mark":{"type":"rect","fill":"#f4f6f5"},"encoding":{"x":{"field":"west","type":"quantitative","scale":{"domain":[-128,-110],"nice":false,"zero":false},"title":null,"axis":{"orient":"bottom","values":[-120],"tickSize":9,"domain":true,"zindex":1,"labels":true,"labelExpr":"'120W'","labelFontSize":21.5,"labelPadding":13}},"x2":{"field":"east"},"y":{"field":"south","type":"quantitative","scale":{"domain":[30,50],"nice":false,"zero":false},"title":null,"axis":{"orient":"left","values":[30,35,40,45,50],"tickSize":9,"domain":true,"zindex":1,"labels":true,"labelExpr":"datum.value+'N'","labelFontSize":20.4,"labelPadding":14}},"y2":{"field":"north"}}},
{"data":{"name":"cells"},"transform":[{"filter":"datum.panel==='b'"}],"mark":{"type":"rect"},"encoding":{"x":{"field":"lon","type":"quantitative","scale":{"domain":[-128,-110],"nice":false,"zero":false},"title":null,"axis":{"orient":"top","values":[-128,-127,-126,-125,-124,-123,-122,-121,-120,-119,-118,-117,-116,-115,-114,-113,-112,-111,-110],"tickSize":4.5}},"x2":{"field":"lon2"},"y":{"field":"lat","type":"quantitative","scale":{"domain":[30,50],"nice":false,"zero":false},"title":null,"axis":{"orient":"right","values":[30,31,32,33,34,35,36,37,38,39,40,41,42,43,44,45,46,47,48,49,50],"tickSize":5}},"y2":{"field":"lat2"},"color":{"field":"v","type":"quantitative","legend":null,"scale":{"type":"threshold","domain":[-2,-1.6,-1.2,-0.8,-0.4,0,0.4,0.8,1.2,1.6,2],"range":["#5b2c00","#9c5215","#d0801c","#e8c27a","#fbe8c0","#f4f6f5","#f4f6f5","#b9e8e3","#46cfc0","#009d96","#006660","#003830"]}}}},
{"data":{"name":"geo"},"transform":[{"filter":"datum.k==='border'"}],"mark":{"type":"line","color":"black","clip":true,"strokeWidth":1.1},"encoding":{"x":{"field":"lon","type":"quantitative","scale":{"domain":[-128,-110],"nice":false,"zero":false},"title":null,"axis":{"orient":"top","values":[-120],"tickSize":9,"domain":true,"zindex":1}},"y":{"field":"lat","type":"quantitative","scale":{"domain":[30,50],"nice":false,"zero":false},"title":null,"axis":{"orient":"right","values":[30,35,40,45,50],"tickSize":9,"domain":true,"zindex":1}},"detail":{"field":"g"},"order":{"value":null}}},
{"data":{"name":"geo"},"transform":[{"filter":"datum.k==='coast'"}],"mark":{"type":"line","color":"black","clip":true,"strokeWidth":1.7,"strokeJoin":"round"},"encoding":{"x":{"field":"lon","type":"quantitative","scale":{"domain":[-128,-110],"nice":false,"zero":false},"axis":null},"y":{"field":"lat","type":"quantitative","scale":{"domain":[30,50],"nice":false,"zero":false},"axis":null},"detail":{"field":"g"},"order":{"value":null}}},
{"data":{"name":"geo"},"transform":[{"filter":"datum.k==='thick'"}],"mark":{"type":"line","color":"black","clip":true,"strokeWidth":2.6,"strokeJoin":"round","strokeCap":"round"},"encoding":{"x":{"field":"lon","type":"quantitative","scale":{"domain":[-128,-110],"nice":false,"zero":false},"axis":null},"y":{"field":"lat","type":"quantitative","scale":{"domain":[30,50],"nice":false,"zero":false},"axis":null},"detail":{"field":"g"},"order":{"value":null}}},
{"data":{"name":"geo"},"transform":[{"filter":"datum.k==='heavy'"}],"mark":{"type":"line","color":"black","clip":true,"strokeWidth":4,"strokeJoin":"round","strokeCap":"round"},"encoding":{"x":{"field":"lon","type":"quantitative","scale":{"domain":[-128,-110],"nice":false,"zero":false},"axis":null},"y":{"field":"lat","type":"quantitative","scale":{"domain":[30,50],"nice":false,"zero":false},"axis":null},"detail":{"field":"g"},"order":{"value":null}}},
{"data":{"name":"contours"},"transform":[{"filter":"datum.panel==='b'"}],"mark":{"type":"line","color":"black","clip":true,"strokeWidth":1.1},"encoding":{"x":{"field":"lon","type":"quantitative","scale":{"domain":[-128,-110],"nice":false,"zero":false},"axis":null},"y":{"field":"lat","type":"quantitative","scale":{"domain":[30,50],"nice":false,"zero":false},"axis":null},"detail":{"field":"g"},"order":{"value":null},"strokeDash":{"field":"k","type":"nominal","legend":null,"scale":{"domain":["pos","neg"],"range":[[1,0],[4,3]]}}}},
{"data":{"values":[{"label":"b) Bias MMM"}]},"mark":{"type":"text","align":"left","baseline":"middle","font":"Liberation Sans","fontSize":27,"color":"black"},"encoding":{"x":{"datum":-127.8,"type":"quantitative","axis":null},"y":{"datum":51.64,"type":"quantitative","axis":null},"text":{"field":"label"}}},
{"data":{"values":[{"label":"month 1"}]},"mark":{"type":"text","align":"left","baseline":"middle","font":"DejaVu Sans","fontSize":23.7,"color":"#222222"},"encoding":{"x":{"datum":-116.48,"type":"quantitative","axis":null},"y":{"datum":51.64,"type":"quantitative","axis":null},"text":{"field":"label"}}}
]},
{"width":264,"height":462.7,"resolve":{"axis":{"x":"independent","y":"independent"}},"layer":[
{"data":{"name":"mask"},"transform":[{"filter":"datum.panel==='m'"}],"mark":{"type":"rect","fill":"#f4f6f5","stroke":"#b5b5b5","strokeWidth":2},"encoding":{"x":{"field":"west","type":"quantitative","scale":{"domain":[-128,-110],"nice":false,"zero":false},"title":null,"axis":{"orient":"bottom","values":[-128,-127,-126,-125,-124,-123,-122,-121,-120,-119,-118,-117,-116,-115,-114,-113,-112,-111,-110],"tickSize":5}},"x2":{"field":"east"},"y":{"field":"south","type":"quantitative","scale":{"domain":[30,50],"nice":false,"zero":false},"title":null,"axis":{"orient":"left","values":[30,31,32,33,34,35,36,37,38,39,40,41,42,43,44,45,46,47,48,49,50],"tickSize":5}},"y2":{"field":"north"}}},
{"data":{"name":"mask"},"transform":[{"filter":"datum.panel==='m'"}],"mark":{"type":"rect","fill":"#f4f6f5"},"encoding":{"x":{"field":"west","type":"quantitative","scale":{"domain":[-128,-110],"nice":false,"zero":false},"title":null,"axis":{"orient":"bottom","values":[-120],"tickSize":9,"domain":true,"zindex":1,"labels":true,"labelExpr":"'120W'","labelFontSize":21.5,"labelPadding":13}},"x2":{"field":"east"},"y":{"field":"south","type":"quantitative","scale":{"domain":[30,50],"nice":false,"zero":false},"title":null,"axis":{"orient":"left","values":[30,35,40,45,50],"tickSize":9,"domain":true,"zindex":1,"labels":true,"labelExpr":"datum.value+'N'","labelFontSize":20.4,"labelPadding":14}},"y2":{"field":"north"}}},
{"data":{"name":"cells"},"transform":[{"filter":"datum.panel==='c'"}],"mark":{"type":"rect"},"encoding":{"x":{"field":"lon","type":"quantitative","scale":{"domain":[-128,-110],"nice":false,"zero":false},"title":null,"axis":{"orient":"top","values":[-128,-127,-126,-125,-124,-123,-122,-121,-120,-119,-118,-117,-116,-115,-114,-113,-112,-111,-110],"tickSize":4.5}},"x2":{"field":"lon2"},"y":{"field":"lat","type":"quantitative","scale":{"domain":[30,50],"nice":false,"zero":false},"title":null,"axis":{"orient":"right","values":[30,31,32,33,34,35,36,37,38,39,40,41,42,43,44,45,46,47,48,49,50],"tickSize":5}},"y2":{"field":"lat2"},"color":{"field":"v","type":"quantitative","legend":null,"scale":{"type":"threshold","domain":[-2,-1.6,-1.2,-0.8,-0.4,0,0.4,0.8,1.2,1.6,2],"range":["#5b2c00","#9c5215","#d0801c","#e8c27a","#fbe8c0","#f4f6f5","#f4f6f5","#b9e8e3","#46cfc0","#009d96","#006660","#003830"]}}}},
{"data":{"name":"geo"},"transform":[{"filter":"datum.k==='border'"}],"mark":{"type":"line","color":"black","clip":true,"strokeWidth":1.1},"encoding":{"x":{"field":"lon","type":"quantitative","scale":{"domain":[-128,-110],"nice":false,"zero":false},"title":null,"axis":{"orient":"top","values":[-120],"tickSize":9,"domain":true,"zindex":1}},"y":{"field":"lat","type":"quantitative","scale":{"domain":[30,50],"nice":false,"zero":false},"title":null,"axis":{"orient":"right","values":[30,35,40,45,50],"tickSize":9,"domain":true,"zindex":1}},"detail":{"field":"g"},"order":{"value":null}}},
{"data":{"name":"geo"},"transform":[{"filter":"datum.k==='coast'"}],"mark":{"type":"line","color":"black","clip":true,"strokeWidth":1.7,"strokeJoin":"round"},"encoding":{"x":{"field":"lon","type":"quantitative","scale":{"domain":[-128,-110],"nice":false,"zero":false},"axis":null},"y":{"field":"lat","type":"quantitative","scale":{"domain":[30,50],"nice":false,"zero":false},"axis":null},"detail":{"field":"g"},"order":{"value":null}}},
{"data":{"name":"geo"},"transform":[{"filter":"datum.k==='thick'"}],"mark":{"type":"line","color":"black","clip":true,"strokeWidth":2.6,"strokeJoin":"round","strokeCap":"round"},"encoding":{"x":{"field":"lon","type":"quantitative","scale":{"domain":[-128,-110],"nice":false,"zero":false},"axis":null},"y":{"field":"lat","type":"quantitative","scale":{"domain":[30,50],"nice":false,"zero":false},"axis":null},"detail":{"field":"g"},"order":{"value":null}}},
{"data":{"name":"geo"},"transform":[{"filter":"datum.k==='heavy'"}],"mark":{"type":"line","color":"black","clip":true,"strokeWidth":4,"strokeJoin":"round","strokeCap":"round"},"encoding":{"x":{"field":"lon","type":"quantitative","scale":{"domain":[-128,-110],"nice":false,"zero":false},"axis":null},"y":{"field":"lat","type":"quantitative","scale":{"domain":[30,50],"nice":false,"zero":false},"axis":null},"detail":{"field":"g"},"order":{"value":null}}},
{"data":{"name":"contours"},"transform":[{"filter":"datum.panel==='c'"}],"mark":{"type":"line","color":"black","clip":true,"strokeWidth":1.1},"encoding":{"x":{"field":"lon","type":"quantitative","scale":{"domain":[-128,-110],"nice":false,"zero":false},"axis":null},"y":{"field":"lat","type":"quantitative","scale":{"domain":[30,50],"nice":false,"zero":false},"axis":null},"detail":{"field":"g"},"order":{"value":null},"strokeDash":{"field":"k","type":"nominal","legend":null,"scale":{"domain":["pos","neg"],"range":[[1,0],[4,3]]}}}},
{"data":{"values":[{"label":"c) Bias MMM"}]},"mark":{"type":"text","align":"left","baseline":"middle","font":"Liberation Sans","fontSize":27,"color":"black"},"encoding":{"x":{"datum":-127.8,"type":"quantitative","axis":null},"y":{"datum":51.64,"type":"quantitative","axis":null},"text":{"field":"label"}}},
{"data":{"values":[{"label":"month 1-6"}]},"mark":{"type":"text","align":"left","baseline":"middle","font":"DejaVu Sans","fontSize":23.7,"color":"#222222"},"encoding":{"x":{"datum":-116.68,"type":"quantitative","axis":null},"y":{"datum":51.64,"type":"quantitative","axis":null},"text":{"field":"label"}}}
]}
],"spacing":105,"bounds":"flush"}
],"spacing":0,"bounds":"flush"},
{"hconcat":[
{"width":252,"height":1,"data":{"values":[{"spacer":1}]},"mark":{"type":"rect","opacity":0},"encoding":{}},
{"width":612,"height":43,"data":{"name":"bar"},"mark":{"type":"rect","stroke":"black","strokeWidth":1},"encoding":{"x":{"field":"from","type":"quantitative","scale":{"domain":[-2.4,2.4],"nice":false,"zero":false},"title":null,"axis":{"orient":"bottom","values":[-2,-1.6,-1.2,-0.8,-0.4,0,0.4,0.8,1.2,1.6,2],"ticks":false,"labels":true,"labelExpr":"''+datum.value","labelFontSize":18.5,"labelPadding":13}},"x2":{"field":"to"},"color":{"field":"v","type":"quantitative","legend":null,"scale":{"type":"threshold","domain":[-2,-1.6,-1.2,-0.8,-0.4,0,0.4,0.8,1.2,1.6,2],"range":["#5b2c00","#9c5215","#d0801c","#e8c27a","#fbe8c0","#f5f5f5","#f5f5f5","#bde9e5","#46cfc0","#009d96","#006660","#003830"]}}}}
],"spacing":0,"bounds":"flush"}
],"spacing":21,"resolve":{"scale":{"color":"independent"}}},
{"hconcat":[
{"width":534,"height":397,"view":{"stroke":"#cccccc","strokeWidth":2},"title":{"text":"d)","anchor":"start","dx":18,"offset":10},"data":{"name":"hist_d"},"mark":{"type":"rect","stroke":"white","strokeWidth":1,"opacity":0.53},"encoding":{"x":{"field":"from","type":"quantitative","scale":{"domain":[-0.193,4.096],"nice":false,"zero":false},"title":"ONDJFM SWUS precipitation (mm/day)","axis":{"values":[0,0.5,1,1.5,2,2.5,3,3.5,4],"format":".1f","grid":true,"gridColor":"#cccccc","gridWidth":1.6,"ticks":false,"labels":true,"labelFont":"DejaVu Sans","labelFontSize":15.5,"labelColor":"#262626","labelPadding":14,"titleFont":"DejaVu Sans","titleFontSize":24,"titleFontWeight":"normal","titleColor":"#262626","titlePadding":7}},"x2":{"field":"to"},"y":{"field":"density","type":"quantitative","scale":{"domain":[0,1.661],"nice":false,"zero":false},"title":"Density","axis":{"values":[0,0.2,0.4,0.6,0.8,1,1.2,1.4,1.6],"format":".1f","grid":true,"gridColor":"#cccccc","gridWidth":1.6,"ticks":false,"labels":true,"labelFont":"DejaVu Sans","labelFontSize":15.5,"labelColor":"#262626","labelPadding":14,"titleFont":"DejaVu Sans","titleFontSize":24,"titleFontWeight":"normal","titleColor":"#262626","titlePadding":6}},"y2":{"datum":0},"color":{"field":"series","type":"nominal","scale":{"domain":["OBS","MMM month 1"],"range":["#0173b2","#ff7f0e"]},"legend":{"orient":"none","legendX":368,"legendY":6,"title":null,"fillColor":"rgba(255,255,255,0.8)","padding":8,"symbolType":"M-2,-0.72H2V0.72H-2Z","symbolSize":272,"symbolOpacity":0.53,"labelFont":"DejaVu Sans","labelFontSize":16,"labelColor":"#262626","labelOffset":20,"rowPadding":6}}}},
{"vconcat":[
{"width":1,"height":2,"data":{"values":[{"spacer":1}]},"mark":{"type":"rect","opacity":0},"encoding":{}},
{"width":537,"height":397,"view":{"stroke":"#cccccc","strokeWidth":2},"title":{"text":"e)","anchor":"start","dx":21,"offset":10},"data":{"name":"hist_e"},"mark":{"type":"rect","stroke":"white","strokeWidth":1,"opacity":0.53},"encoding":{"x":{"field":"from","type":"quantitative","scale":{"domain":[-0.196,4.096],"nice":false,"zero":false},"title":"ONDJFM SWUS precipitation (mm/day)","axis":{"values":[0,0.5,1,1.5,2,2.5,3,3.5,4],"format":".1f","grid":true,"gridColor":"#cccccc","gridWidth":1.6,"ticks":false,"labels":true,"labelFont":"DejaVu Sans","labelFontSize":15.5,"labelColor":"#262626","labelPadding":14,"titleFont":"DejaVu Sans","titleFontSize":24,"titleFontWeight":"normal","titleColor":"#262626","titlePadding":7}},"x2":{"field":"to"},"y":{"field":"density","type":"quantitative","scale":{"domain":[0,1.661],"nice":false,"zero":false},"title":"Density","axis":{"values":[0,0.2,0.4,0.6,0.8,1,1.2,1.4,1.6],"format":".1f","grid":true,"gridColor":"#cccccc","gridWidth":1.6,"ticks":false,"labels":true,"labelFont":"DejaVu Sans","labelFontSize":15.5,"labelColor":"#262626","labelPadding":14,"titleFont":"DejaVu Sans","titleFontSize":24,"titleFontWeight":"normal","titleColor":"#262626","titlePadding":6}},"y2":{"datum":0},"color":{"field":"series","type":"nominal","scale":{"domain":["OBS","MMM month 1-6"],"range":["#0173b2","#ff7f0e"]},"legend":{"orient":"none","legendX":355,"legendY":6,"title":null,"fillColor":"rgba(255,255,255,0.8)","padding":8,"symbolType":"M-2,-0.72H2V0.72H-2Z","symbolSize":272,"symbolOpacity":0.53,"labelFont":"DejaVu Sans","labelFontSize":16,"labelColor":"#262626","labelOffset":20,"rowPadding":6}}}}
],"spacing":0,"bounds":"flush"}
],"spacing":99,"bounds":"flush","resolve":{"scale":{"color":"independent"}}}
],"resolve":{"scale":{"color":"independent"}}}
